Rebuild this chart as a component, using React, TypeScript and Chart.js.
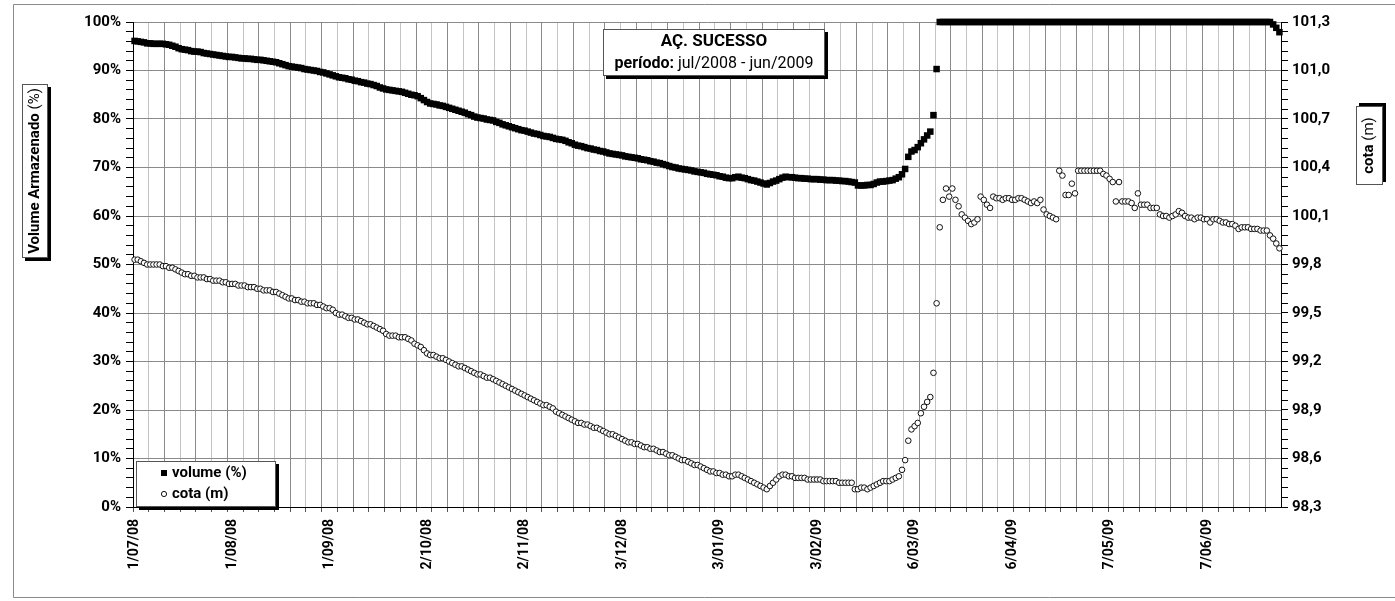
import React, { useEffect, useRef } from 'react';
import { Chart, registerables } from 'chart.js';

Chart.register(...registerables);

// Daily stored volume (% of capacity), 1 Jul 2008 .. 30 Jun 2009
const volumePct: number[] = [
  96.1, 96.0, 95.9, 95.8, 95.6, 95.6, 95.5, 95.5, 95.5, 95.5,
  95.4, 95.3, 95.1, 94.9, 94.6, 94.4, 94.3, 94.2, 94.0, 93.9,
  93.9, 93.8, 93.6, 93.5, 93.4, 93.3, 93.2, 93.1, 93.0, 92.9,
  92.8, 92.8, 92.7, 92.6, 92.5, 92.5, 92.4, 92.4, 92.3, 92.2,
  92.2, 92.1, 92.0, 91.9, 91.8, 91.7, 91.5, 91.3, 91.1, 90.9,
  90.8, 90.7, 90.6, 90.5, 90.3, 90.2, 90.1, 90.0, 89.9, 89.7,
  89.6, 89.4, 89.2, 89.0, 88.8, 88.6, 88.5, 88.4, 88.2, 88.1,
  87.9, 87.8, 87.6, 87.5, 87.3, 87.2, 87.0, 86.8, 86.5, 86.3,
  86.1, 86.0, 85.9, 85.8, 85.7, 85.6, 85.4, 85.2, 85.0, 84.9,
  84.7, 84.3, 83.9, 83.5, 83.2, 83.1, 83.0, 82.8, 82.7, 82.5,
  82.3, 82.1, 81.9, 81.7, 81.5, 81.3, 81.0, 80.8, 80.5, 80.3,
  80.2, 80.1, 79.9, 79.8, 79.7, 79.4, 79.2, 78.9, 78.7, 78.5,
  78.3, 78.1, 77.9, 77.7, 77.6, 77.4, 77.2, 77.0, 76.9, 76.7,
  76.5, 76.4, 76.3, 76.1, 75.9, 75.8, 75.7, 75.5, 75.2, 75.0,
  74.7, 74.5, 74.4, 74.2, 74.0, 73.9, 73.7, 73.6, 73.4, 73.3,
  73.1, 72.9, 72.8, 72.7, 72.6, 72.5, 72.3, 72.2, 72.1, 72.0,
  71.9, 71.7, 71.6, 71.5, 71.3, 71.2, 71.0, 70.9, 70.7, 70.5,
  70.3, 70.1, 70.0, 69.8, 69.7, 69.6, 69.5, 69.4, 69.2, 69.1,
  69.0, 68.9, 68.7, 68.6, 68.5, 68.4, 68.2, 68.1, 67.9, 67.8,
  67.8, 68.0, 68.1, 67.9, 67.8, 67.6, 67.4, 67.3, 67.1, 66.9,
  66.7, 66.5, 66.8, 67.1, 67.3, 67.6, 67.9, 68.1, 68.0, 68.0,
  67.9, 67.8, 67.8, 67.7, 67.7, 67.6, 67.6, 67.6, 67.5, 67.5,
  67.4, 67.4, 67.4, 67.3, 67.3, 67.2, 67.2, 67.1, 67.0, 66.9,
  66.3, 66.3, 66.3, 66.4, 66.4, 66.6, 66.9, 67.1, 67.1, 67.2,
  67.3, 67.4, 67.7, 68.0, 68.6, 69.7, 72.2, 73.3, 73.6, 74.2,
  75.0, 75.8, 76.6, 77.4, 80.8, 90.3, 100, 100, 100, 100,
  100, 100, 100, 100, 100, 100, 100, 100, 100, 100,
  100, 100, 100, 100, 100, 100, 100, 100, 100, 100,
  100, 100, 100, 100, 100, 100, 100, 100, 100, 100,
  100, 100, 100, 100, 100, 100, 100, 100, 100, 100,
  100, 100, 100, 100, 100, 100, 100, 100, 100, 100,
  100, 100, 100, 100, 100, 100, 100, 100, 100, 100,
  100, 100, 100, 100, 100, 100, 100, 100, 100, 100,
  100, 100, 100, 100, 100, 100, 100, 100, 100, 100,
  100, 100, 100, 100, 100, 100, 100, 100, 100, 100,
  100, 100, 100, 100, 100, 100, 100, 100, 100, 100,
  100, 100, 99.5, 98.8, 97.9,
];

// Daily water level (m), same days
const cotaM: number[] = [
  99.83, 99.83, 99.82, 99.81, 99.80, 99.80, 99.80, 99.80, 99.80, 99.79,
  99.79, 99.78, 99.78, 99.77, 99.76, 99.75, 99.74, 99.74, 99.73, 99.73,
  99.72, 99.72, 99.72, 99.71, 99.71, 99.70, 99.70, 99.70, 99.69, 99.69,
  99.68, 99.68, 99.68, 99.67, 99.67, 99.67, 99.66, 99.66, 99.66, 99.65,
  99.65, 99.64, 99.64, 99.64, 99.63, 99.63, 99.62, 99.61, 99.60, 99.59,
  99.59, 99.58, 99.58, 99.57, 99.57, 99.56, 99.56, 99.56, 99.55, 99.55,
  99.54, 99.53, 99.53, 99.52, 99.50, 99.49, 99.49, 99.48, 99.47, 99.47,
  99.46, 99.46, 99.45, 99.44, 99.43, 99.43, 99.42, 99.41, 99.40, 99.39,
  99.37, 99.36, 99.36, 99.36, 99.35, 99.35, 99.35, 99.34, 99.33, 99.31,
  99.30, 99.29, 99.27, 99.25, 99.24, 99.24, 99.23, 99.22, 99.22, 99.21,
  99.20, 99.19, 99.18, 99.17, 99.17, 99.16, 99.15, 99.14, 99.13, 99.12,
  99.12, 99.11, 99.10, 99.10, 99.09, 99.08, 99.07, 99.06, 99.05, 99.04,
  99.03, 99.02, 99.01, 99.00, 98.99, 98.98, 98.97, 98.96, 98.95, 98.94,
  98.93, 98.93, 98.92, 98.91, 98.89, 98.88, 98.87, 98.86, 98.85, 98.84,
  98.83, 98.82, 98.82, 98.81, 98.81, 98.80, 98.79, 98.79, 98.78, 98.77,
  98.76, 98.75, 98.75, 98.74, 98.73, 98.72, 98.71, 98.70, 98.70, 98.69,
  98.69, 98.68, 98.67, 98.67, 98.66, 98.66, 98.65, 98.64, 98.64, 98.63,
  98.62, 98.62, 98.61, 98.60, 98.59, 98.59, 98.58, 98.57, 98.56, 98.56,
  98.55, 98.54, 98.53, 98.52, 98.52, 98.51, 98.51, 98.50, 98.50, 98.49,
  98.49, 98.50, 98.50, 98.49, 98.48, 98.47, 98.46, 98.45, 98.44, 98.43,
  98.42, 98.41, 98.43, 98.45, 98.47, 98.49, 98.50, 98.50, 98.49, 98.49,
  98.48, 98.48, 98.48, 98.48, 98.47, 98.47, 98.47, 98.47, 98.47, 98.46,
  98.46, 98.46, 98.46, 98.46, 98.45, 98.45, 98.45, 98.45, 98.45, 98.41,
  98.41, 98.42, 98.42, 98.41, 98.42, 98.43, 98.44, 98.45, 98.46, 98.46,
  98.46, 98.47, 98.48, 98.49, 98.53, 98.59, 98.71, 98.78, 98.80, 98.82,
  98.88, 98.92, 98.95, 98.98, 99.13, 99.56, 100.03, 100.20, 100.27, 100.22,
  100.27, 100.20, 100.16, 100.11, 100.09, 100.07, 100.05, 100.06, 100.08, 100.22,
  100.20, 100.17, 100.15, 100.22, 100.21, 100.21, 100.20, 100.21, 100.21, 100.20,
  100.20, 100.21, 100.21, 100.20, 100.19, 100.18, 100.19, 100.18, 100.20, 100.14,
  100.11, 100.10, 100.09, 100.08, 100.38, 100.35, 100.23, 100.23, 100.30, 100.24,
  100.38, 100.38, 100.38, 100.38, 100.38, 100.38, 100.38, 100.38, 100.36, 100.35,
  100.33, 100.31, 100.19, 100.31, 100.19, 100.19, 100.19, 100.18, 100.15, 100.24,
  100.17, 100.17, 100.17, 100.15, 100.15, 100.15, 100.11, 100.10, 100.10, 100.09,
  100.10, 100.11, 100.13, 100.12, 100.10, 100.09, 100.09, 100.08, 100.09, 100.09,
  100.08, 100.08, 100.06, 100.08, 100.08, 100.07, 100.06, 100.06, 100.05, 100.05,
  100.04, 100.02, 100.03, 100.03, 100.03, 100.02, 100.02, 100.02, 100.01, 100.01,
  100.01, 99.98, 99.96, 99.93, 99.90,
];

// Category (day) labels: one per daily reading, starting 1 Jul 2008
const categories: string[] = volumePct.map((_, i) => {
  const d = new Date(Date.UTC(2008, 6, 1 + i));
  return `${d.getUTCDate()}/${String(d.getUTCMonth() + 1).padStart(2, '0')}/${String(d.getUTCFullYear()).slice(2)}`;
});

// Tick labels
const xTickLabels = ['1/07/08', '1/08/08', '1/09/08', '2/10/08', '2/11/08', '3/12/08', '3/01/09', '3/02/09', '6/03/09', '6/04/09', '7/05/09', '7/06/09'];
const leftTickLabels = ['0%', '10%', '20%', '30%', '40%', '50%', '60%', '70%', '80%', '90%', '100%'];
const rightTickLabels = ['98,3', '98,6', '98,9', '99,2', '99,5', '99,8', '100,1', '100,4', '100,7', '101,0', '101,3'];

const titleMain = 'AÇ. SUCESSO';
const titlePeriodBold = 'período:';
const titlePeriodRest = ' jul/2008 - jun/2009';
const seriesNames = ['volume (%)', 'cota (m)'];
const leftTitleBold = 'Volume Armazenado';
const leftTitleRest = ' (%)';
const rightTitleBold = 'cota';
const rightTitleRest = ' (m)';

const FONT = 'Roboto, "Open Sans", sans-serif';
const DARK = '#8a8a8a';
const LIGHT = '#c4c4c4';

function shadowBox(ctx: CanvasRenderingContext2D, x: number, y: number, w: number, h: number, dx: number, dy: number) {
  ctx.fillStyle = '#000';
  ctx.fillRect(x + dx, y + dy, w, h);
  ctx.fillStyle = '#fff';
  ctx.fillRect(x, y, w, h);
  ctx.strokeStyle = '#555';
  ctx.lineWidth = 1;
  ctx.strokeRect(x + 0.5, y + 0.5, w - 1, h - 1);
}

function mixedText(ctx: CanvasRenderingContext2D, bold: string, rest: string, cx: number, cy: number, size: number) {
  ctx.font = `bold ${size}px ${FONT}`;
  const wb = ctx.measureText(bold).width;
  ctx.font = `${size}px ${FONT}`;
  const wr = ctx.measureText(rest).width;
  const x0 = cx - (wb + wr) / 2;
  ctx.fillStyle = '#000';
  ctx.textAlign = 'left';
  ctx.textBaseline = 'middle';
  ctx.font = `bold ${size}px ${FONT}`;
  ctx.fillText(bold, x0, cy);
  ctx.font = `${size}px ${FONT}`;
  ctx.fillText(rest, x0 + wb, cy);
}

const decorPlugin = {
  id: 'decor',
  afterDraw(chart: any) {
    const ctx: CanvasRenderingContext2D = chart.ctx;
    const a = chart.chartArea;
    ctx.save();

    // outer chart frame
    ctx.strokeStyle = '#8a8a8a';
    ctx.lineWidth = 1;
    ctx.beginPath();
    ctx.moveTo(1395, 4.5);
    ctx.lineTo(13.5, 4.5);
    ctx.lineTo(13.5, 597.5);
    ctx.lineTo(1395, 597.5);
    ctx.stroke();

    // title box
    shadowBox(ctx, 603, 29, 222, 47, 3, 3);
    ctx.fillStyle = '#000';
    ctx.textAlign = 'center';
    ctx.textBaseline = 'middle';
    ctx.font = `bold 17px ${FONT}`;
    ctx.fillText(titleMain, 714, 42);
    mixedText(ctx, titlePeriodBold, titlePeriodRest, 714, 64, 16);

    // legend box
    const lx = a.left + 3;
    const ly = a.bottom - 46;
    shadowBox(ctx, lx, ly, 140, 46, 3, 3);
    ctx.fillStyle = '#000';
    ctx.fillRect(lx + 25, ly + 9, 6, 6);
    ctx.beginPath();
    ctx.arc(lx + 28, ly + 33, 2.6, 0, Math.PI * 2);
    ctx.fillStyle = '#fff';
    ctx.fill();
    ctx.strokeStyle = '#111';
    ctx.stroke();
    ctx.fillStyle = '#000';
    ctx.textAlign = 'left';
    ctx.textBaseline = 'middle';
    ctx.font = `bold 15px ${FONT}`;
    ctx.fillText(seriesNames[0], lx + 36, ly + 12);
    ctx.fillText(seriesNames[1], lx + 36, ly + 33);

    // left axis title
    shadowBox(ctx, 22, 84, 26, 174, 3, 3);
    ctx.save();
    ctx.translate(35, 171);
    ctx.rotate(-Math.PI / 2);
    mixedText(ctx, leftTitleBold, leftTitleRest, 0, 0, 15);
    ctx.restore();

    // right axis title
    shadowBox(ctx, 1356, 106, 27, 79, 3, -3);
    ctx.save();
    ctx.translate(1369.5, 145.5);
    ctx.rotate(-Math.PI / 2);
    mixedText(ctx, rightTitleBold, rightTitleRest, 0, 0, 15);
    ctx.restore();

    ctx.restore();
  },
};

export default function App() {
  const ref = useRef<HTMLCanvasElement>(null);

  useEffect(() => {
    const canvas = ref.current;
    if (!canvas) return;
    const tickFont = { family: FONT, size: 15, weight: 'bold' as const };
    const chart = new Chart(canvas, {
      type: 'line',
      data: {
        labels: categories,
        datasets: [
          {
            label: seriesNames[0],
            data: volumePct,
            yAxisID: 'y',
            showLine: false,
            pointStyle: 'rect',
            pointRadius: 4.6,
            pointBackgroundColor: '#000',
            pointBorderWidth: 0,
            borderColor: '#000',
            backgroundColor: '#000',
            clip: false,
          },
          {
            label: seriesNames[1],
            data: cotaM,
            yAxisID: 'y1',
            showLine: false,
            pointStyle: 'circle',
            pointRadius: 2.8,
            pointBackgroundColor: '#fff',
            pointBorderColor: '#111',
            pointBorderWidth: 1,
            borderColor: '#111',
            backgroundColor: '#fff',
            clip: false,
          },
        ],
      },
      options: {
        responsive: false,
        animation: false,
        events: [],
        layout: { padding: { top: 22, left: 0, right: 0, bottom: 0 } },
        plugins: {
          legend: { display: false },
          tooltip: { enabled: false },
          title: { display: false },
        },
        scales: {
          x: {
            type: 'category',
            offset: true,
            grid: {
              offset: true,
              color: (c: any) => (c.index % 10 === 0 ? DARK : c.index % 5 === 0 ? LIGHT : 'transparent'),
              tickColor: (c: any) => (c.index % 5 === 0 ? '#555' : 'transparent'),
              tickLength: 5,
            },
            border: { color: '#000', width: 1 },
            ticks: {
              autoSkip: false,
              minRotation: 90,
              maxRotation: 90,
              padding: 7,
              color: '#000',
              font: { family: FONT, size: 14, weight: 'bold' },
              callback: (_v: any, i: number) => (i % 31 === 0 ? xTickLabels[i / 31] ?? '' : ''),
            },
            afterFit: (s: any) => {
              s.height = 94;
            },
          },
          y: {
            position: 'left',
            min: 0,
            max: 100,
            ticks: {
              stepSize: 2,
              maxTicksLimit: 60,
              autoSkip: false,
              padding: 5,
              color: '#000',
              font: tickFont,
              callback: (_v: any, i: number) => (i % 5 === 0 ? leftTickLabels[i / 5] ?? '' : ''),
            },
            grid: {
              color: (c: any) => (c.index % 5 === 0 ? DARK : 'transparent'),
              tickColor: '#000',
              tickLength: 7,
            },
            border: { color: '#000', width: 1 },
            afterFit: (s: any) => {
              s.width = 133;
            },
          },
          y1: {
            position: 'right',
            min: 98.3,
            max: 101.3,
            ticks: {
              stepSize: 0.06,
              maxTicksLimit: 60,
              autoSkip: false,
              padding: 4,
              color: '#000',
              font: tickFont,
              callback: (_v: any, i: number) => (i % 5 === 0 ? rightTickLabels[i / 5] ?? '' : ''),
            },
            grid: {
              drawOnChartArea: false,
              tickColor: '#000',
              tickLength: 7,
            },
            border: { color: '#000', width: 1 },
            afterFit: (s: any) => {
              s.width = 114;
            },
          },
        },
      } as any,
      plugins: [decorPlugin],
    });
    return () => chart.destroy();
  }, []);

  return (
    <div style={{ position: 'absolute', left: 0, top: 0, width: 1395, height: 601, background: '#fff' }}>
      <canvas ref={ref} width={1395} height={601} style={{ display: 'block' }} />
    </div>
  );
}
